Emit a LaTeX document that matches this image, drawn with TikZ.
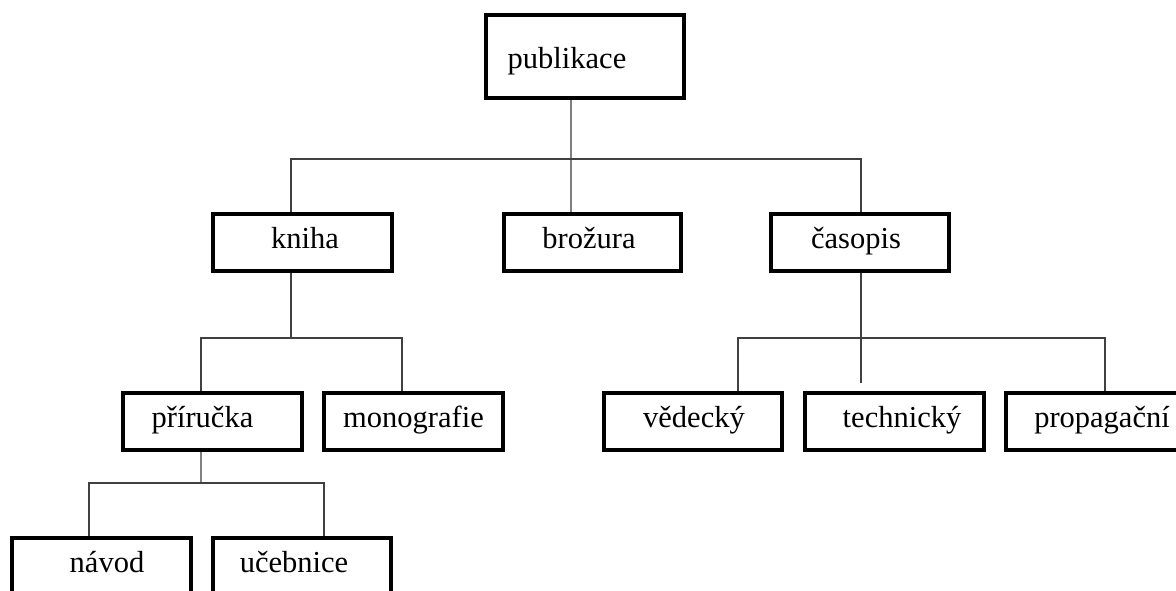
\documentclass[tikz,border=0pt]{standalone}
\usepackage{fontspec}
\setmainfont{Liberation Serif}
\newcommand\tshift[2]{\makebox[0pt]{\hspace*{#1}#2}}
\begin{document}
\begin{tikzpicture}[x=1pt,y=-1pt,
  box/.style={draw=black,line width=4pt,rectangle,minimum width=179pt,minimum height=57pt,
    inner sep=0pt,text height=16pt,text depth=4pt,font=\fontsize{30.5}{36}\selectfont},
  conn/.style={draw=black!75,line width=1.6pt},
  lconn/.style={draw=black!50,line width=1.6pt}]
\useasboundingbox (0,0) rectangle (1176,590);
\fill[white] (0,0) rectangle (1176,590);
% boxes
\node[box,minimum width=198pt,minimum height=83pt] (pub) at (585,56.5) {\raisebox{-5.5pt}{\tshift{-36pt}{publikace}}};
\node[box] (kniha) at (302.5,242) {\tshift{5pt}{kniha}};
\node[box,minimum width=177pt] (bro) at (592.5,242) {\tshift{-7pt}{brožura}};
\node[box,minimum width=178pt] (cas) at (860,242) {\tshift{-8pt}{časopis}};
\node[box] (pri) at (212.5,421.5) {\tshift{-20pt}{příručka}};
\node[box] (mono) at (413.5,421.5) {monografie};
\node[box,minimum width=178pt] (ved) at (693,421.5) {\tshift{2pt}{vědecký}};
\node[box] (tech) at (894.5,421.5) {\tshift{15pt}{technický}};
\node[box,minimum width=181pt] (prop) at (1096.5,421.5) {\tshift{11pt}{propagační}};
\node[box] (navod) at (101.5,566.5) {\tshift{11pt}{návod}};
\node[box,minimum width=178pt] (uceb) at (302,566.5) {\tshift{-16pt}{učebnice}};
% bus coordinates
\coordinate (b1) at (575,159);
\coordinate (b2) at (300,338);
\coordinate (b3) at (900,338);
\coordinate (b4) at (200,483);
\coordinate (casend) at (861,383);
% connectors
\draw[lconn] ([xshift=-14pt]pub.south) -- ([xshift=-21.5pt]bro.north);
\draw[conn] ([xshift=-11.5pt]kniha.north) |- (b1) -| ([xshift=1pt]cas.north);
\draw[conn] ([xshift=-11.5pt]kniha.south) -- ([xshift=-11.5pt]kniha.south |- b2);
\draw[conn] ([xshift=-11.5pt]pri.north) |- (b2) -| ([xshift=-11.5pt]mono.north);
\draw[conn] ([xshift=1pt]cas.south) -- (casend);
\draw[conn] ([xshift=45pt]ved.north) |- (b3) -| ([xshift=8.5pt]prop.north);
\draw[lconn] ([xshift=-11.5pt]pri.south) -- ([xshift=-11.5pt]pri.south |- b4);
\draw[conn] ([xshift=-12.5pt]navod.north) |- (b4) -| ([xshift=22pt]uceb.north);
\end{tikzpicture}
\end{document}
